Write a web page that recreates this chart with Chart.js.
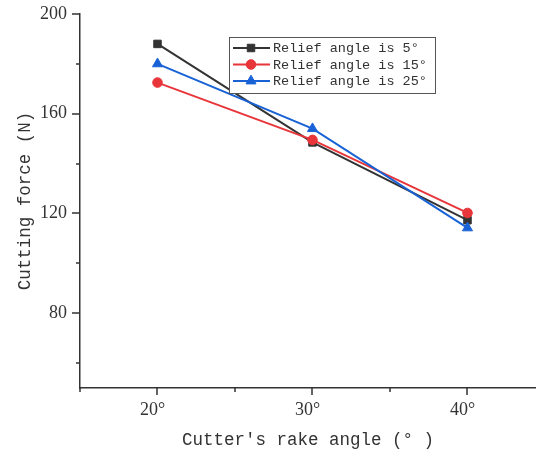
<!DOCTYPE html>
<html>
<head>
<meta charset="utf-8">
<script src="https://cdn.jsdelivr.net/npm/chart.js@4/dist/chart.umd.min.js"></script>
<style>
  html, body { margin: 0; padding: 0; background: #fff; overflow: hidden; }
  #wrap { width: 536px; height: 452px; }
</style>
</head>
<body>
<div id="wrap"><canvas id="chart" width="536" height="452"></canvas></div>
<script>
// ----- data -----
const rakeAngles = [20, 30, 40];
const relief5 = [188, 148.5, 117.3];
const relief15 = [172.5, 149.5, 120.2];
const relief25 = [180, 154, 114.2];
const seriesNames = ['Relief angle is 5°', 'Relief angle is 15°', 'Relief angle is 25°'];
const xMajorTicks = [20, 30, 40];
const xMinorTicks = [15, 25, 35];
const yMajorTicks = [80, 120, 160, 200];
const yMinorTicks = [60, 100, 140, 180];

const AXIS = '#333333';
const COLORS = ['#333333', '#e8353a', '#1862d6'];
const STYLES = ['rect', 'circle', 'triangle'];
const RADII = [5.3, 4.8, 5.8];

const toPoints = (ys) => rakeAngles.map((x, i) => ({ x, y: ys[i] }));

// no extra room for edge labels, the plot box is fixed
const noScalePadding = (s) => {
  s.paddingTop = 0;
  s.paddingBottom = 0;
  s.paddingLeft = 0;
  s.paddingRight = 0;
};

// tick marks, long for labelled values and short in between
const axisMarks = {
  id: 'axisMarks',
  afterDraw(chart) {
    const { ctx, chartArea: a, scales: { x, y } } = chart;
    ctx.save();
    ctx.strokeStyle = AXIS;
    ctx.lineWidth = 1.5;
    ctx.beginPath();
    xMajorTicks.forEach(v => { const p = Math.round(x.getPixelForValue(v)); ctx.moveTo(p, a.bottom); ctx.lineTo(p, a.bottom + 7); });
    xMinorTicks.forEach(v => { const p = Math.round(x.getPixelForValue(v)); ctx.moveTo(p, a.bottom); ctx.lineTo(p, a.bottom + 4); });
    yMajorTicks.forEach(v => { const p = Math.round(y.getPixelForValue(v)); ctx.moveTo(a.left, p); ctx.lineTo(a.left - 8, p); });
    yMinorTicks.forEach(v => { const p = Math.round(y.getPixelForValue(v)); ctx.moveTo(a.left, p); ctx.lineTo(a.left - 4, p); });
    ctx.stroke();
    ctx.restore();
  }
};

// framed legend sitting inside the plot
const boxLegend = {
  id: 'boxLegend',
  afterDraw(chart) {
    const ctx = chart.ctx;
    const left = 229, top = 37, w = 206, h = 56;
    ctx.save();
    ctx.fillStyle = '#fff';
    ctx.fillRect(left, top, w, h);
    ctx.strokeStyle = '#555';
    ctx.lineWidth = 1;
    ctx.strokeRect(left + 0.5, top + 0.5, w, h);
    chart.data.datasets.forEach((ds, i) => {
      const rowY = top + 11 + i * 16.5;
      ctx.strokeStyle = ds.borderColor;
      ctx.lineWidth = 2;
      ctx.beginPath();
      ctx.moveTo(left + 4, rowY);
      ctx.lineTo(left + 41, rowY);
      ctx.stroke();
      ctx.fillStyle = ds.pointBackgroundColor;
      ctx.strokeStyle = ds.pointBorderColor;
      ctx.lineWidth = 1;
      Chart.helpers.drawPoint(ctx, { pointStyle: ds.pointStyle, radius: ds.pointRadius, rotation: 0, borderWidth: 1 }, left + 22, rowY);
      ctx.fillStyle = '#333';
      ctx.font = '13.5px "Liberation Mono"';
      ctx.textBaseline = 'middle';
      ctx.textAlign = 'left';
      ctx.fillText(ds.label, left + 44, rowY + 0.5);
    });
    ctx.restore();
  }
};

const datasets = [relief5, relief15, relief25].map((ys, i) => ({
  label: seriesNames[i],
  data: toPoints(ys),
  borderColor: COLORS[i],
  backgroundColor: COLORS[i],
  pointBackgroundColor: COLORS[i],
  pointBorderColor: COLORS[i],
  pointStyle: STYLES[i],
  pointRadius: RADII[i],
  pointBorderWidth: 1,
  borderWidth: 2,
  tension: 0,
  order: 2 - i
}));

new Chart(document.getElementById('chart'), {
  type: 'line',
  data: { datasets },
  options: {
    responsive: false,
    animation: false,
    devicePixelRatio: 1,
    layout: { autoPadding: false, padding: { top: 14, right: 0, left: 0, bottom: 0 } },
    plugins: { legend: { display: false }, tooltip: { enabled: false } },
    scales: {
      x: {
        type: 'linear',
        min: 15,
        max: 44.42,
        afterBuildTicks: (s) => { s.ticks = xMajorTicks.map(value => ({ value })); },
        afterFit: (s) => { s.height = 64; noScalePadding(s); },
        grid: { display: false, drawTicks: false },
        border: { display: true, color: AXIS, width: 1.5 },
        ticks: {
          callback: (v) => v + '°',
          color: AXIS,
          padding: 11,
          labelOffset: -5,
          maxRotation: 0,
          autoSkip: false,
          font: { family: '"Liberation Serif"', size: 18 }
        },
        title: {
          display: true,
          text: "Cutter's rake angle (° )",
          color: AXIS,
          padding: { top: 0, bottom: 1 },
          font: { family: '"Liberation Mono"', size: 17.5 }
        }
      },
      y: {
        min: 50,
        max: 200,
        afterBuildTicks: (s) => { s.ticks = yMajorTicks.map(value => ({ value })); },
        afterFit: (s) => { s.width = 80; noScalePadding(s); },
        grid: { display: false, drawTicks: false },
        border: { display: true, color: AXIS, width: 1.5 },
        ticks: {
          color: AXIS,
          padding: 13,
          autoSkip: false,
          font: { family: '"Liberation Serif"', size: 18 }
        },
        title: {
          display: true,
          text: 'Cutting force (N)',
          color: AXIS,
          padding: { top: 15, bottom: 0 },
          font: { family: '"Liberation Mono"', size: 17.5 }
        }
      }
    }
  },
  plugins: [axisMarks, boxLegend]
});
</script>
</body>
</html>
